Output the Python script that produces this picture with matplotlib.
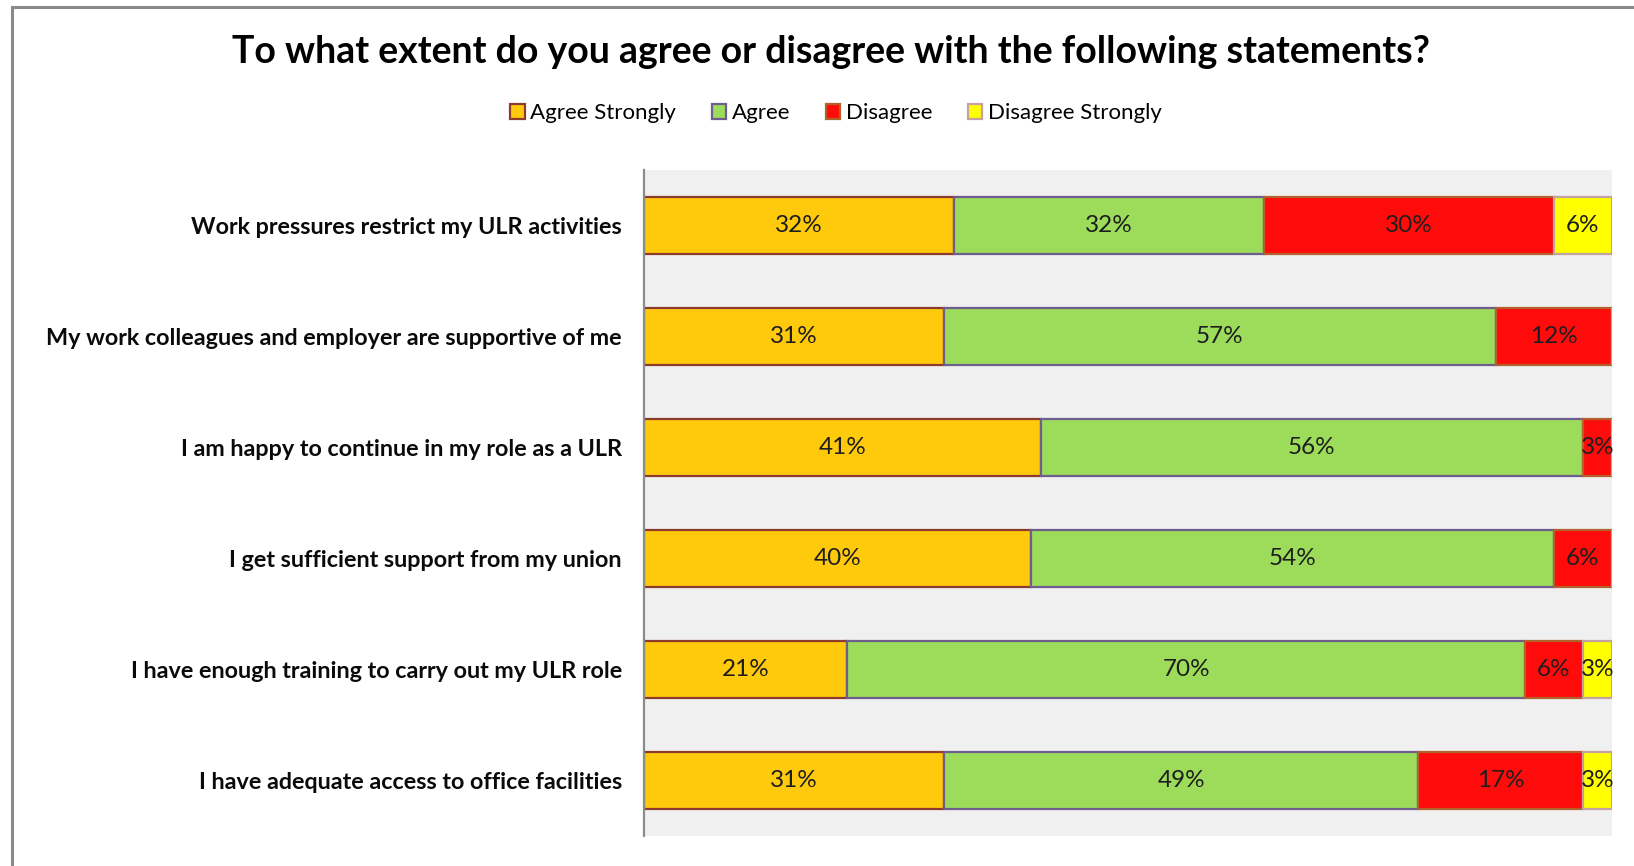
import matplotlib
matplotlib.use("Agg")
import matplotlib.pyplot as plt
from matplotlib.patches import Patch
from matplotlib.lines import Line2D
import numpy as np

# Survey statements (top to bottom) and response shares in percent
statements = [
    "Work pressures restrict my ULR activities",
    "My work colleagues and employer are supportive of me",
    "I am happy to continue in my role as a ULR",
    "I get sufficient support from my union",
    "I have enough training to carry out my ULR role",
    "I have adequate access to office facilities",
]
agree_strongly = [32, 31, 41, 40, 21, 31]
agree = [32, 57, 56, 54, 70, 49]
disagree = [30, 12, 3, 6, 6, 17]
disagree_strongly = [6, 0, 0, 0, 3, 3]

series_names = ["Agree Strongly", "Agree", "Disagree", "Disagree Strongly"]
series_values = [agree_strongly, agree, disagree, disagree_strongly]
fills = ["#FFC90C", "#9CDC5A", "#FF0B0B", "#FFFF00"]
edges = ["#8E3B2E", "#6E5E8E", "#B2602C", "#C4A2A2"]

title = "To what extent do you agree or disagree with the following statements?"

FONT = ["Lato", "DejaVu Sans"]
plt.rcParams["font.family"] = FONT

W, H = 1634, 866
fig = plt.figure(figsize=(W / 100, H / 100), dpi=100)
fig.patch.set_facecolor("white")

ax = fig.add_axes([644 / W, 1 - 836 / H, (1612 - 644) / W, (836 - 170) / H])
ax.set_facecolor("#F0F0F0")

y = np.arange(len(statements))
left = np.zeros(len(statements))
for name, vals, fc, ec in zip(series_names, series_values, fills, edges):
    vals = np.array(vals, dtype=float)
    bars = ax.barh(y, vals, left=left, height=0.51, color=fc, edgecolor=ec,
                   linewidth=1.6, label=name)
    for rect, v in zip(bars, vals):
        if v > 0:
            ax.text(rect.get_x() + rect.get_width() / 2,
                    rect.get_y() + rect.get_height() / 2,
                    f"{v:.0f}%", ha="center", va="center",
                    fontsize=17.5, color="#1E1E1E")
    left += vals

ax.set_xlim(0, 100)
ax.set_ylim(len(statements) - 0.5, -0.5)
ax.set_xticks([])
ax.set_yticks(y)
ax.set_yticklabels(statements, fontsize=16.8, fontweight="bold", color="#0A0A0A")
ax.tick_params(axis="y", length=0, pad=16)
for side in ("top", "right", "bottom"):
    ax.spines[side].set_visible(False)
ax.spines["left"].set_color("#8C8C8C")
ax.spines["left"].set_linewidth(1.6)

fig.text(831 / W, 1 - 52 / H, title, ha="center", va="center",
         fontsize=27, fontweight="bold", color="#000000")

handles = [Patch(facecolor=fc, edgecolor=ec, linewidth=1.6)
           for fc, ec in zip(fills, edges)]
fig.legend(handles, series_names, loc="center",
           bbox_to_anchor=(836 / W, 1 - 113 / H), ncol=4, frameon=False,
           fontsize=16, handlelength=0.65, handleheight=0.65,
           handletextpad=0.25, columnspacing=1.6)

# Outer chart border (left and top edges)
fig.add_artist(Line2D([11.5 / W, 11.5 / W], [0, 1 - 6.5 / H],
                      transform=fig.transFigure, color="#8A8A8A", linewidth=2.2))
fig.add_artist(Line2D([11.5 / W, 1], [1 - 6.5 / H, 1 - 6.5 / H],
                      transform=fig.transFigure, color="#8A8A8A", linewidth=2.2))

fig.savefig("out.png", dpi=100, facecolor="white")
